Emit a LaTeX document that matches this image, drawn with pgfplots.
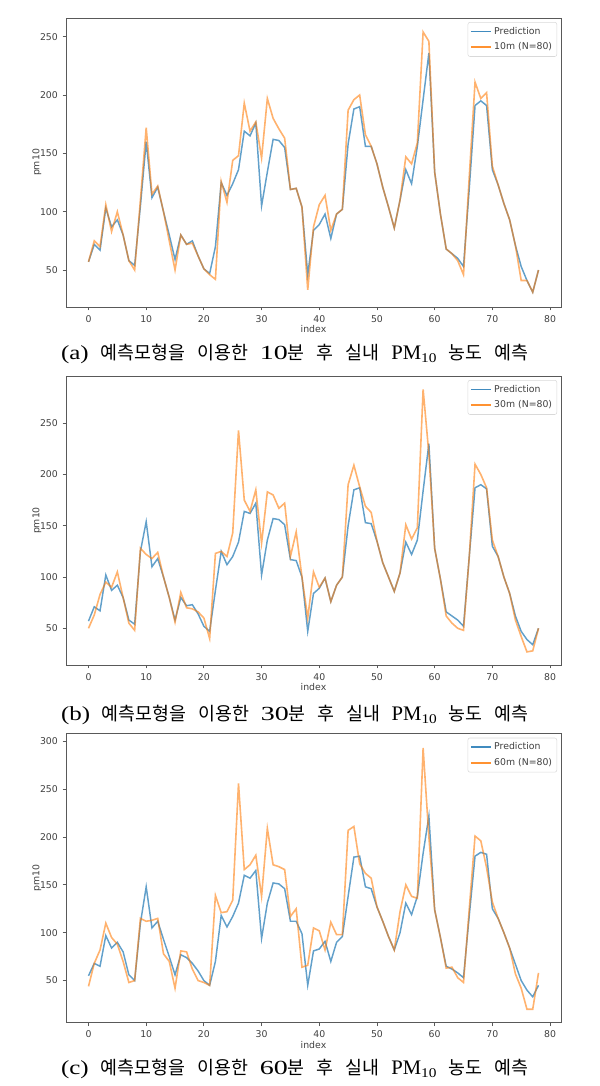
\documentclass[border=0pt]{standalone}
\usepackage{pgfplots}
\pgfplotsset{compat=1.18}
\usepackage{pgfplotstable}
\usepackage{fontspec}
\setmainfont{Liberation Serif}
\newfontfamily\kr{Noto Sans CJK KR}
\newfontfamily\dv{DejaVu Sans}
\definecolor{mblue}{HTML}{1F77B4}
\definecolor{morange}{HTML}{FF7F0E}

\pgfplotstableread{
i p a
0 57 57
1 72 75
2 67 70
3 103 106
4 87 83
5 93 100
6 80 80
7 58 58
8 54 50
9 105 110
10 160 172
11 112 115
12 121 122
13 100 100
14 80 75
15 59 50
16 80 80
17 72 72
18 75 73
19 62 62
20 51 51
21 47 46
22 70 42
23 125 126
24 114 108
25 124 144
26 136 148
27 169 193
28 165 169
29 176 177
30 105 146
31 134 197
32 162 180
33 161 171
34 155 163
35 119 119
36 120 120
37 104 104
38 46 33
39 84 87
40 89 106
41 98 114
42 77 84
43 98 98
44 102 102
45 158 187
46 188 196
47 190 200
48 156 166
49 156 156
50 141 141
51 121 121
52 104 104
53 86 86
54 110 110
55 136 147
56 124 141
57 156 159
58 196 254
59 236 246
60 134 134
61 98 98
62 68 68
63 64 64
64 60 58
65 53 46
66 120 130
67 191 211
68 195 197
69 191 202
70 136 139
71 123 123
72 107 107
73 93 93
74 71 71
75 53 41
76 41 41
77 31 31
78 50 50
}\dataA

\pgfplotstableread{
i p a
0 57 50
1 71 63
2 67 83
3 102 95
4 87 90
5 92 105
6 80 80
7 58 55
8 54 48
9 125 128
10 154 122
11 110 118
12 118 124
13 100 100
14 80 80
15 58 56
16 80 85
17 72 70
18 73 69
19 64 66
20 52 60
21 47 40
22 87 123
23 125 125
24 112 120
25 120 143
26 134 243
27 164 175
28 162 164
29 172 185
30 102 133
31 136 183
32 157 180
33 156 167
34 151 172
35 117 120
36 116 144
37 100 100
38 47 60
39 84 105
40 89 90
41 99 99
42 76 76
43 92 92
44 100 100
45 150 190
46 185 209
47 187 188
48 153 169
49 152 163
50 135 135
51 114 114
52 100 100
53 86 86
54 104 104
55 134 151
56 122 137
57 136 148
58 184 283
59 230 220
60 128 128
61 98 98
62 66 62
63 62 55
64 58 50
65 52 48
66 120 120
67 187 210
68 190 200
69 186 187
70 130 136
71 120 120
72 100 100
73 84 84
74 62 58
75 47 42
76 39 27
77 34 28
78 50 50
}\dataB

\pgfplotstableread{
i p a
0 55 44
1 68 68
2 65 82
3 97 110
4 84 95
5 90 88
6 80 70
7 56 48
8 50 50
9 110 115
10 148 112
11 105 113
12 112 115
13 93 78
14 75 70
15 56 42
16 77 81
17 74 80
18 68 62
19 60 50
20 50 48
21 45 45
22 70 139
23 118 121
24 106 122
25 117 134
26 131 256
27 160 166
28 157 171
29 165 181
30 94 138
31 131 209
32 152 171
33 151 169
34 146 166
35 112 117
36 112 125
37 99 64
38 45 66
39 81 105
40 83 102
41 91 82
42 70 111
43 90 98
44 96 98
45 138 207
46 179 211
47 180 172
48 148 162
49 146 157
50 127 127
51 112 112
52 96 96
53 82 82
54 100 122
55 131 150
56 119 138
57 138 136
58 183 293
59 222 200
60 124 124
61 95 95
62 65 63
63 62 64
64 58 53
65 53 48
66 118 125
67 180 201
68 184 196
69 182 168
70 125 132
71 115 115
72 100 100
73 84 84
74 67 57
75 50 42
76 40 20
77 33 20
78 45 58
}\dataC

\pgfplotsset{
  pmstyle/.style={
    scale only axis, width=371.25pt, height=216.75pt,
    anchor=south west,
    xmin=-3.9, xmax=81.9,
    xtick={0,10,...,80},
    axis line style={black!65},
    tick style={black!65, line width=0.6pt},
    tick align=outside, major tick length=2.6pt,
    xtick pos=bottom, ytick pos=left,
    /pgf/number format/assume math mode=true,
    every tick label/.append style={font=\fontsize{7}{8}\dv, text=black!75},
    label style={font=\fontsize{7}{8}\dv, text=black!75},
    xlabel={index}, ylabel={pm10},
    xlabel style={at={(axis description cs:0.5,-0.076)}, anchor=center},
    ylabel style={at={(axis description cs:-0.0586,0.5)}, anchor=center},
    legend cell align=left,
    legend style={at={(axis description cs:0.992,0.986)}, anchor=north east,
      draw=black!15, rounded corners=1.5pt, font=\fontsize{7}{8}\dv, text=black!75,
      inner sep=1.5pt, row sep=1pt},
    legend image code/.code={\draw[#1, opacity=0.85] (0pt,0pt) -- (15pt,0pt);},
  },
  pline/.style={mblue, opacity=0.7, line width=1.1pt},
  aline/.style={morange, opacity=0.6, line width=1.2pt},
}

\newcommand{\lat}[2]{\scalebox{#1}[1]{\fontsize{15}{18}\selectfont #2}}
\newcommand{\capx}[2]{\makebox[350.25pt][s]{\lat{1.25}{(#1)} {\kr 예측모형을} {\kr 이용한} \lat{1.4}{#2}{\kr 분} {\kr 후} {\kr 실내} {\fontsize{15.5}{18}\selectfont PM\raisebox{-0.35ex}{\scalebox{1.15}[1]{\fontsize{10}{12}\selectfont 10}}} {\kr 농도} {\kr 예측}}}

\begin{document}
\begin{tikzpicture}
\useasboundingbox (0,0) rectangle (450pt,-814.5pt);

\begin{axis}[pmstyle, at={(49.5pt,-230.25pt)}, ymin=18.3, ymax=266, ytick={50,100,...,250}]
\addplot[pline] table[x=i,y=p]{\dataA};
\addplot[aline] table[x=i,y=a]{\dataA};
\legend{Prediction, 10m (N=80)}
\end{axis}

\begin{axis}[pmstyle, at={(49.5pt,-498.75pt)}, ymin=14.2, ymax=296, ytick={50,100,...,250}]
\addplot[pline] table[x=i,y=p]{\dataB};
\addplot[aline] table[x=i,y=a]{\dataB};
\legend{Prediction, 30m (N=80)}
\end{axis}

\begin{axis}[pmstyle, at={(49.5pt,-767pt)}, ymin=6, ymax=308, ytick={50,100,...,300}]
\addplot[pline] table[x=i,y=p]{\dataC};
\addplot[aline] table[x=i,y=a]{\dataC};
\legend{Prediction, 60m (N=80)}
\end{axis}

\node[font=\fontsize{13.8}{16}\selectfont, inner sep=0pt] at (220.9pt,-265.5pt) {\capx{a}{10}};
\node[font=\fontsize{13.8}{16}\selectfont, inner sep=0pt] at (220.9pt,-536.25pt) {\capx{b}{30}};
\node[font=\fontsize{13.8}{16}\selectfont, inner sep=0pt] at (220.9pt,-801.75pt) {\capx{c}{60}};
\end{tikzpicture}
\end{document}
